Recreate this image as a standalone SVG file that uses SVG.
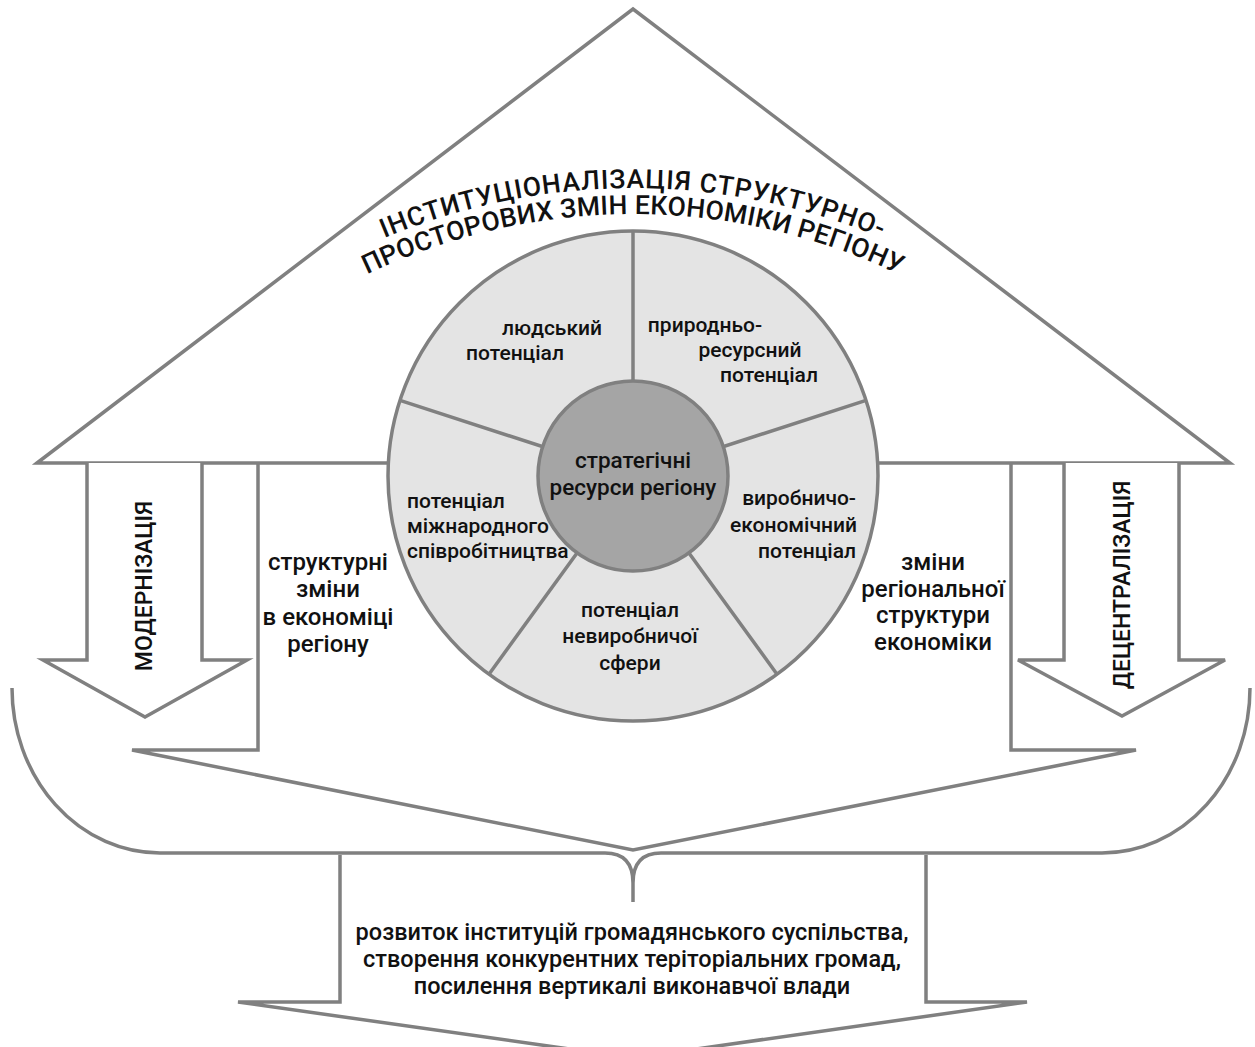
<svg xmlns="http://www.w3.org/2000/svg" width="1255" height="1047" viewBox="0 0 1255 1047">
<style>
.ln{fill:none;stroke:#808080;stroke-width:3.5;stroke-linejoin:miter}
.wf{fill:#fff;stroke:#808080;stroke-width:3.5}
.t{font-family:Roboto,"Liberation Sans",sans-serif;font-weight:500;fill:#111}
.s21{font-size:21px}
.s22{font-size:22.5px}
.s24{font-size:24px}
.m{text-anchor:middle}
.e{text-anchor:end}
</style>
<defs>
<path id="arc1" d="M 219.4 338.2 A 645 645 0 0 1 1046.6 338.2"/>
<path id="arc2" d="M 237 358.2 A 616 616 0 0 1 1029 358.2"/>
</defs>
<rect width="1255" height="1047" fill="#fff"/>
<g id="connectors">
<polygon id="roof" class="wf" points="37,463 633,9 1230,463"/>
<path id="walls" class="ln" d="M 258 463 L 258 750 L 132 750 L 633 850 L 1136 750 L 1011 750 L 1011 463"/>
<path id="arrow-left" class="wf" d="M 87 463 V 660 H 43 L 145 717 L 247 660 H 202 V 463"/>
<path id="arrow-right" class="wf" d="M 1064 463 V 660 H 1018 L 1122 716 L 1225 660 H 1179 V 463"/>
<path id="brace" class="ln" d="M 12 688 A 148 165 0 0 0 160 853 L 605 853 Q 633 853 633 883 L 633 902 M 633 883 Q 633 853 661 853 L 1102 853 A 148 165 0 0 0 1250 688"/>
<path id="arrow-bottom" class="ln" d="M 340 855 V 1002 H 238 L 633 1058 L 1027 1002 H 926 V 855"/>
</g>
<g id="title">
<text class="t" font-size="26.5" letter-spacing="0.9"><textPath href="#arc1" startOffset="50%" text-anchor="middle">ІНСТИТУЦІОНАЛІЗАЦІЯ СТРУКТУРНО-</textPath></text>
<text class="t" font-size="26.5" letter-spacing="0.3"><textPath href="#arc2" startOffset="50%" text-anchor="middle">ПРОСТОРОВИХ ЗМІН ЕКОНОМІКИ РЕГІОНУ</textPath></text>
</g>
<g id="wheel">
<circle cx="633" cy="476" r="245" fill="#e4e4e4" stroke="#808080" stroke-width="3.5"/>
<path class="ln" d="M 633 476 L 633 231 M 633 476 L 866 400.3 M 633 476 L 777 674.2 M 633 476 L 489 674.2 M 633 476 L 400 400.3"/>
</g>
<g id="node-human"><text class="t s21 m"><tspan x="552" y="335">людський</tspan><tspan x="515" y="360">потенціал</tspan></text></g>
<g id="node-natural"><text class="t s21 m"><tspan x="705" y="332">природньо-</tspan><tspan x="750" y="357">ресурсний</tspan><tspan x="769" y="382">потенціал</tspan></text></g>
<g id="node-production"><text class="t s21 e"><tspan x="856" y="505">виробничо-</tspan><tspan x="857" y="532">економічний</tspan><tspan x="856" y="558">потенціал</tspan></text></g>
<g id="node-nonproduction"><text class="t s21 m"><tspan x="630" y="617">потенціал</tspan><tspan x="630" y="643">невиробничої</tspan><tspan x="630" y="670">сфери</tspan></text></g>
<g id="node-international"><text class="t s21"><tspan x="407" y="508">потенціал</tspan><tspan x="407" y="533">міжнародного</tspan><tspan x="407" y="558">співробітництва</tspan></text></g>
<g id="node-center">
<circle cx="633" cy="476" r="95" fill="#a5a5a5" stroke="#808080" stroke-width="3.5"/>
<text class="t s22 m"><tspan x="633" y="468">стратегічні</tspan><tspan x="633" y="495">ресурси регіону</tspan></text>
</g>
<g id="node-modernization"><text class="t m" font-size="23" transform="translate(152 586) rotate(-90)">МОДЕРНІЗАЦІЯ</text></g>
<g id="node-decentralization"><text class="t m" font-size="23" transform="translate(1130 585) rotate(-90)">ДЕЦЕНТРАЛІЗАЦІЯ</text></g>
<g id="node-structural"><text class="t s24 m"><tspan x="328" y="570">структурні</tspan><tspan x="328" y="597">зміни</tspan><tspan x="328" y="625">в економіці</tspan><tspan x="328" y="652">регіону</tspan></text></g>
<g id="node-regional"><text class="t s24 m"><tspan x="933" y="570">зміни</tspan><tspan x="933" y="597">регіональної</tspan><tspan x="933" y="623">структури</tspan><tspan x="933" y="650">економіки</tspan></text></g>
<g id="node-result"><text class="t m" font-size="23.5"><tspan x="632" y="940">розвиток інституцій громадянського суспільства,</tspan><tspan x="632" y="967">створення конкурентних теріторіальних громад,</tspan><tspan x="632" y="994">посилення вертикалі виконавчої влади</tspan></text></g>
</svg>
